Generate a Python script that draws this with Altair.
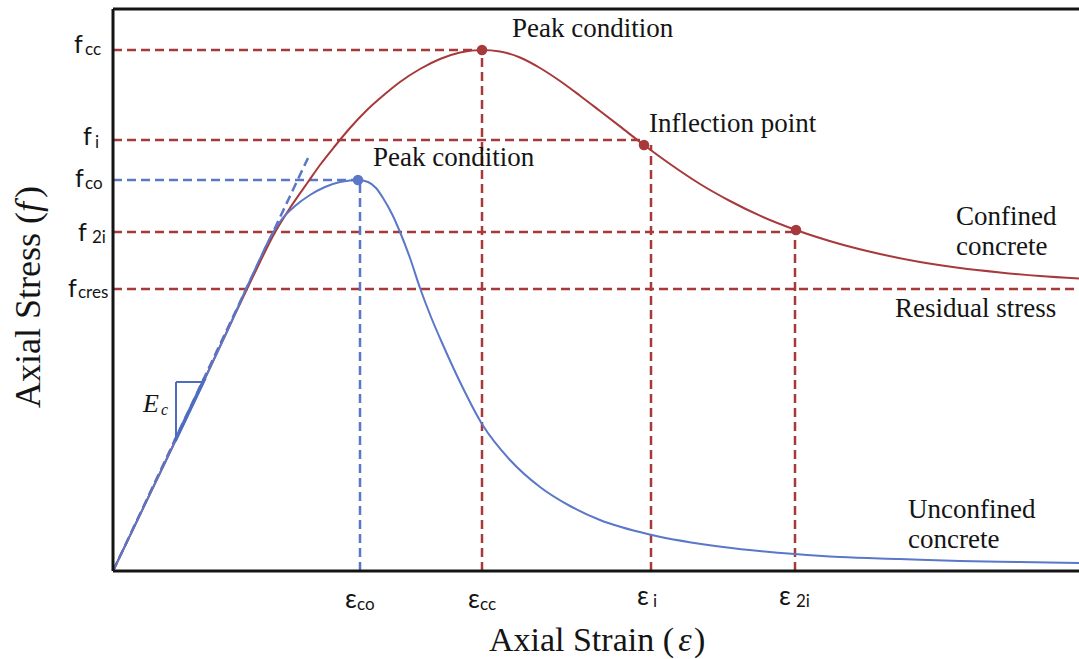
import altair as alt
import pandas as pd

# ---------------- data (schematic units: strain 0..966, stress 0..562) ----------------
conf_strain = [0, 47, 87, 117, 134, 147, 160, 177, 195, 207, 222, 237, 254, 272, 287, 307, 327, 347, 369,
               387, 407, 427, 447, 467, 487, 507, 531, 557, 587, 617, 647, 683, 727, 767, 807, 847, 887, 927, 966]
conf_stress = [0, 98, 182, 246, 282, 309, 335, 363, 389, 406, 425, 443, 461, 477, 489, 502, 512, 518.5, 521,
               519.5, 513.5, 503, 490, 475.3, 460, 444.6, 426, 407, 387, 370, 355.3, 341, 327, 317, 309, 303,
               298.6, 295, 292.5]

unconf_strain = [0, 47, 87, 117, 133, 145, 157, 169, 182, 197, 212, 227, 237, 245, 255, 263, 270, 279, 287, 297,
                 307, 318, 330, 347, 369, 397, 427, 457, 487, 539, 610, 682, 727, 787, 847, 907, 966]
unconf_stress = [0, 98, 182, 246, 282, 308, 333, 352, 365, 376, 384, 389, 390.5, 391, 389, 383, 373, 357, 339, 313,
                 283, 254, 226, 189, 147, 111, 84, 65, 51, 36, 24, 17, 14, 12, 10, 9, 8]

# characteristic values
f_cc, f_i, f_co, f_2i, f_cres = 521, 431, 391, 339, 282
e_co, e_cc, e_i, e_2i = 247, 369, 538, 682
STRAIN_MAX, STRESS_MAX = 966, 562

# marked points
pt_series = ["conf", "conf", "conf", "unconf"]
pt_x = [369, 531, 683, 245]
pt_y = [521, 426, 341, 391]

RED = "#A33F3F"
RED_D = "#A8393B"
BLUE = "#4F6CC0"
BLUE_D = "#5A77C8"
TXT = "#141414"

xs = alt.Scale(domain=[0, STRAIN_MAX], nice=False, zero=False)
ys = alt.Scale(domain=[0, STRESS_MAX], nice=False, zero=False)

X = lambda f="x": alt.X(f"{f}:Q", scale=xs, axis=None)
Y = lambda f="y": alt.Y(f"{f}:Q", scale=ys, axis=None)

curves = pd.DataFrame({
    "x": conf_strain + unconf_strain,
    "y": conf_stress + unconf_stress,
    "s": ["conf"] * len(conf_strain) + ["unconf"] * len(unconf_strain),
})

cscale = alt.Scale(domain=["conf", "unconf"], range=[RED, BLUE])

curve_layer = alt.Chart(curves).mark_line(strokeWidth=2, interpolate="monotone").encode(
    x=X(), y=Y(),
    color=alt.Color("s:N", scale=cscale, legend=None),
    detail="s:N",
)

# dashed guide lines
guides = pd.DataFrame({
    "x":  [0, 0, 0, 0, e_cc, e_i, e_2i, 0, e_co, 0],
    "x2": [e_cc, 531, e_2i, STRAIN_MAX, e_cc, e_i, e_2i, 245, e_co, 195],
    "y":  [f_cc, f_i, f_2i, f_cres, 0, 0, 0, f_co, 0, 0],
    "y2": [f_cc, f_i, f_2i, f_cres, f_cc, 426, f_2i, f_co, f_co, 413],
    "s":  ["conf"] * 7 + ["unconf"] * 3,
})
gscale = alt.Scale(domain=["conf", "unconf"], range=[RED_D, BLUE_D])
guide_layer = alt.Chart(guides).mark_rule(strokeWidth=2.5, strokeDash=[9, 5]).encode(
    x=X(), x2="x2:Q", y=Y(), y2="y2:Q",
    color=alt.Color("s:N", scale=gscale, legend=None),
)

pts = pd.DataFrame({"x": pt_x, "y": pt_y, "s": pt_series})
pt_layer = alt.Chart(pts).mark_circle(size=110, opacity=1).encode(
    x=X(), y=Y(),
    color=alt.Color("s:N", scale=alt.Scale(domain=["conf", "unconf"], range=["#9C3434", "#4A68C0"]), legend=None),
)

# slope triangle for Ec
tri = pd.DataFrame({"x": [63, 63], "x2": [90, 63], "y": [189, 134], "y2": [189, 189]})
tri_layer = alt.Chart(tri).mark_rule(strokeWidth=2, color=BLUE).encode(
    x=X(), x2="x2:Q", y=Y(), y2="y2:Q",
)
hyp = pd.DataFrame({"x": [62], "x2": [92], "y": [130], "y2": [193]})
hyp_layer = alt.Chart(hyp).mark_rule(strokeWidth=3.5, color=BLUE).encode(
    x=X(), x2="x2:Q", y=Y(), y2="y2:Q",
)

# frame: left axis, bottom axis, top line
frame = pd.DataFrame({"x": [0, 0, 0], "x2": [0, STRAIN_MAX, STRAIN_MAX],
                      "y": [0, 0, STRESS_MAX], "y2": [STRESS_MAX, 0, STRESS_MAX]})
frame_layer = alt.Chart(frame).mark_rule(strokeWidth=3, color="#141414").encode(
    x=X(), x2="x2:Q", y=Y(), y2="y2:Q",
)


def text_layer(df, size, font, style="normal", align="left", angle=0):
    return alt.Chart(df).mark_text(align=align, baseline="alphabetic", font=font, fontSize=size,
                                   fontStyle=style, angle=angle, color=TXT).encode(
        x=X(), y=Y(), text="label:N")


SERIF = "Liberation Serif"
SANS = "Lato"

notes = pd.DataFrame({
    "label": ["Peak condition", "Peak condition", "Inflection point", "Confined", "concrete",
              "Residual stress", "Unconfined", "concrete"],
    "x": [399, 260, 536, 843, 843, 782, 795, 795],
    "y": [534, 405, 439, 346, 316, 254, 53, 23],
})

y_main = pd.DataFrame({"label": ["f", "f", "f", "f", "f"],
                       "x": [-39, -30, -38, -35, -45], "y": [518, 426, 384, 330, 274]})
y_sub = pd.DataFrame({"label": ["cc", "i", "co", "2i", "cres"],
                      "x": [-28, -18, -28, -21, -35], "y": [516, 423, 382, 328, 273]})
x_main = pd.DataFrame({"label": ["ε", "ε", "ε", "ε"],
                       "x": [232, 355, 524, 666], "y": [-37, -37, -34, -34]})
x_sub = pd.DataFrame({"label": ["co", "cc", "i", "2i"],
                      "x": [244, 367, 540, 683], "y": [-39, -39, -36, -36]})

ec_main = pd.DataFrame({"label": ["E"], "x": [30], "y": [159]})
ec_sub = pd.DataFrame({"label": ["c"], "x": [48], "y": [156]})

xt_a = pd.DataFrame({"label": ["Axial Strain ("], "x": [561], "y": [-80]})
xt_b = pd.DataFrame({"label": ["ε"], "x": [572], "y": [-80]})
xt_c = pd.DataFrame({"label": [")"], "x": [581], "y": [-80]})

yt_a = pd.DataFrame({"label": ["Axial Stress ("], "x": [-73], "y": [163]})
yt_b = pd.DataFrame({"label": ["f"], "x": [-73], "y": [359]})
yt_c = pd.DataFrame({"label": [")"], "x": [-73], "y": [373]})

chart = alt.layer(
    guide_layer,
    curve_layer,
    tri_layer,
    hyp_layer,
    pt_layer,
    frame_layer,
    text_layer(notes, 27, SERIF),
    text_layer(y_main, 25, SANS),
    text_layer(y_sub, 17, SANS),
    text_layer(x_main, 26, SANS),
    text_layer(x_sub, 17, SANS),
    text_layer(ec_main, 26, SERIF, style="italic"),
    text_layer(ec_sub, 16, SERIF, style="italic"),
    text_layer(xt_a, 34, SERIF, align="right"),
    text_layer(xt_b, 34, SERIF, style="italic", align="center"),
    text_layer(xt_c, 34, SERIF, align="left"),
    text_layer(yt_a, 36, SERIF, angle=270),
    text_layer(yt_b, 36, SERIF, style="italic", angle=270),
    text_layer(yt_c, 36, SERIF, angle=270),
).properties(
    width=966, height=562,
    autosize=alt.AutoSizeParams(type="none"),
    padding={"left": 113, "top": 9, "right": 0, "bottom": 88},
    background="white",
).configure_view(stroke=None)

chart.save("out.html", embed_options={"renderer": "svg", "actions": False})
